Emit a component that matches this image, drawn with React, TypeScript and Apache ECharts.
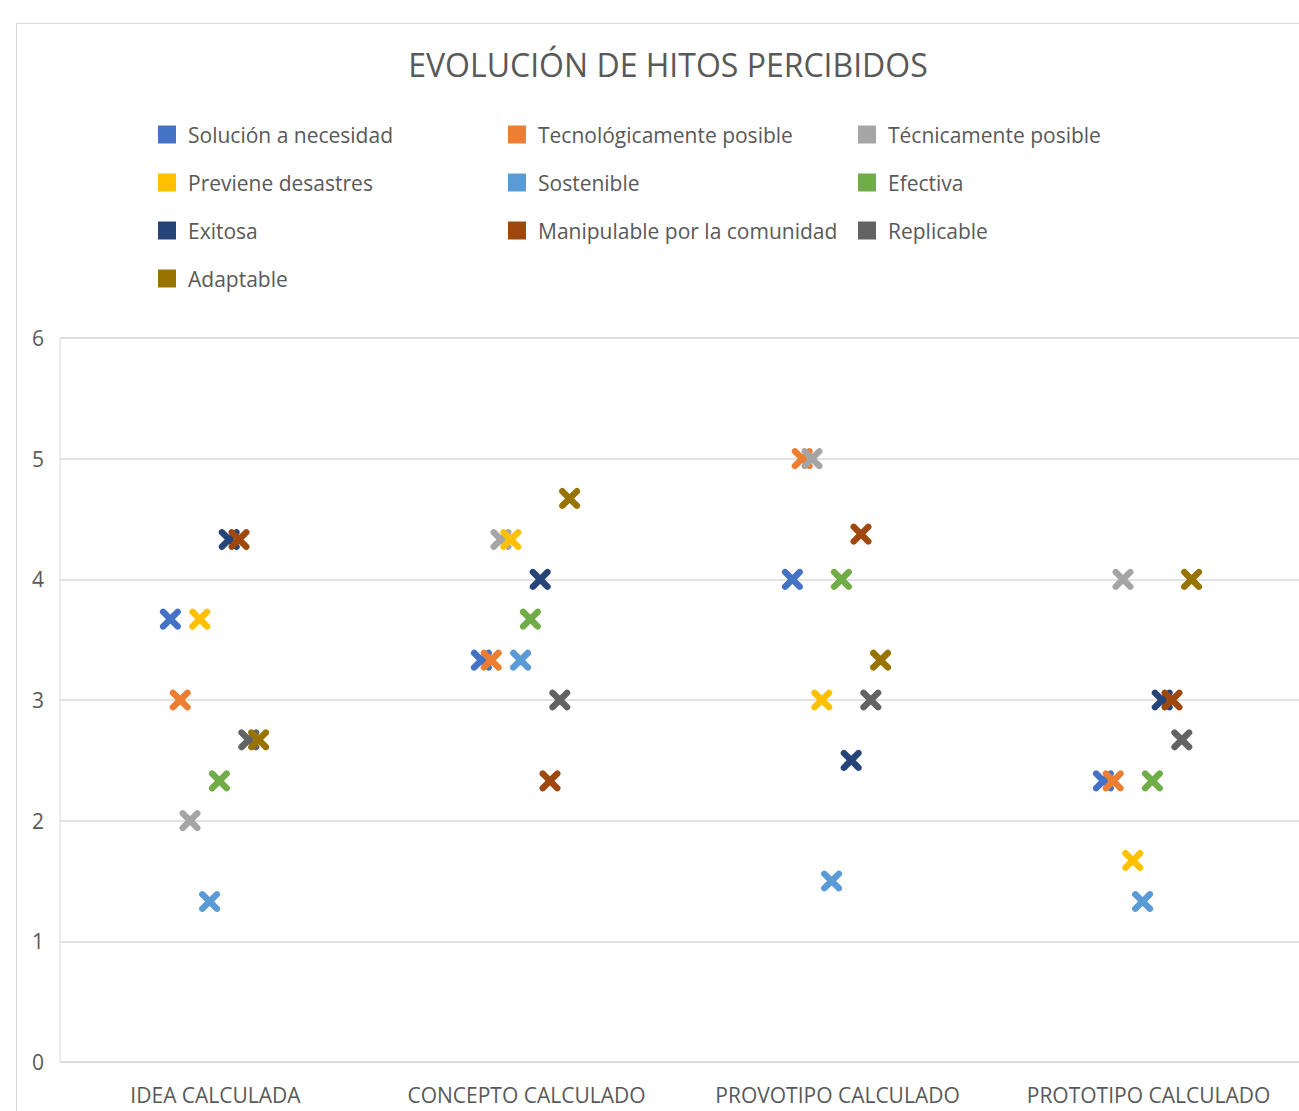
import React, { useEffect, useRef } from "react";
import * as echarts from "echarts";

const categories = ["IDEA CALCULADA", "CONCEPTO CALCULADO", "PROVOTIPO CALCULADO", "PROTOTIPO CALCULADO"];

const seriesNames = [
  "Solución a necesidad",
  "Tecnológicamente posible",
  "Técnicamente posible",
  "Previene desastres",
  "Sostenible",
  "Efectiva",
  "Exitosa",
  "Manipulable por la comunidad",
  "Replicable",
  "Adaptable",
];

const solucion = [3.67, 3.33, 4.0, 2.33];
const tecnologicamente = [3.0, 3.33, 5.0, 2.33];
const tecnicamente = [2.0, 4.33, 5.0, 4.0];
const previene = [3.67, 4.33, 3.0, 1.67];
const sostenible = [1.33, 3.33, 1.5, 1.33];
const efectiva = [2.33, 3.67, 4.0, 2.33];
const exitosa = [4.33, 4.0, 2.5, 3.0];
const manipulable = [4.33, 2.33, 4.375, 3.0];
const replicable = [2.67, 3.0, 3.0, 2.67];
const adaptable = [2.67, 4.67, 3.33, 4.0];

const seriesValues = [
  solucion,
  tecnologicamente,
  tecnicamente,
  previene,
  sostenible,
  efectiva,
  exitosa,
  manipulable,
  replicable,
  adaptable,
];

const yTicks = [0, 1, 2, 3, 4, 5, 6];

const colors = [
  "#4472C4",
  "#ED7D31",
  "#A5A5A5",
  "#FFC000",
  "#5B9BD5",
  "#70AD47",
  "#264478",
  "#9E480E",
  "#636363",
  "#997300",
];

const X_PATH =
  "path://M5.1,0.9 L19.1,14.9 A3,3 0 0 1 14.9,19.1 L0.9,5.1 A3,3 0 0 1 5.1,0.9 Z M19.1,5.1 L5.1,19.1 A3,3 0 0 1 0.9,14.9 L14.9,0.9 A3,3 0 0 1 19.1,5.1 Z";

const FONT = "'Open Sans', 'Noto Sans', sans-serif";
const TEXT = "#595959";

export default function App() {
  const ref = useRef<HTMLDivElement>(null);

  useEffect(() => {
    if (!ref.current) return;
    const chart = echarts.init(ref.current, undefined, { renderer: "svg" });

    const legendCols = [
      { left: 158, names: [seriesNames[0], seriesNames[3], seriesNames[6], seriesNames[9]] },
      { left: 508, names: [seriesNames[1], seriesNames[4], seriesNames[7]] },
      { left: 858, names: [seriesNames[2], seriesNames[5], seriesNames[8]] },
    ];

    chart.setOption({
      animation: false,
      backgroundColor: "#ffffff",
      color: colors,
      textStyle: { fontFamily: FONT, color: TEXT },
      title: {
        text: "EVOLUCIÓN DE HITOS PERCIBIDOS",
        left: "center",
        top: 48,
        padding: 0,
        textStyle: { fontFamily: FONT, fontSize: 32, fontWeight: "normal", color: TEXT },
      },
      graphic: [
        {
          type: "rect",
          shape: { x: 16.5, y: 23.5, width: 1500, height: 1300 },
          style: { fill: "none", stroke: "#d9d9d9", lineWidth: 1 },
          silent: true,
          z: -10,
        },
      ],
      legend: legendCols.map((c) => ({
        orient: "vertical",
        left: c.left,
        top: 124,
        padding: 0,
        itemGap: 27,
        itemWidth: 18,
        itemHeight: 18,
        icon: "rect",
        data: c.names,
        selectedMode: false,
        textStyle: {
          fontFamily: FONT,
          fontSize: 21,
          lineHeight: 21,
          color: TEXT,
          padding: [0, 0, 0, 7],
        },
      })),
      grid: {
        left: 60,
        right: 32,
        top: 338,
        bottom: 78,
        show: true,
        borderColor: "#d9d9d9",
        borderWidth: 1,
        containLabel: false,
      },
      xAxis: {
        type: "category",
        data: categories,
        axisTick: { show: false },
        axisLine: { show: true, lineStyle: { color: "#d9d9d9" } },
        axisLabel: { fontFamily: FONT, fontSize: 21, color: TEXT, margin: 22, interval: 0, hideOverlap: false },
      },
      yAxis: {
        type: "value",
        min: yTicks[0],
        max: yTicks[yTicks.length - 1],
        interval: 1,
        axisLine: { show: false },
        axisTick: { show: false },
        splitLine: { lineStyle: { color: "#d9d9d9", width: 1.5 } },
        axisLabel: { fontFamily: FONT, fontSize: 21, color: TEXT, margin: 16 },
      },
      series: seriesNames.map((name, i) => ({
        name,
        type: "scatter",
        data: seriesValues[i],
        symbol: X_PATH,
        symbolSize: 21,
        symbolOffset: [(i - 4.5) * 9.8 - 1, 0],
        itemStyle: { color: colors[i], opacity: 1 },
        emphasis: { disabled: true },
      })),
    });

    return () => chart.dispose();
  }, []);

  return (
    <div style={{ position: "fixed", left: 0, top: 0, width: 1299, height: 1111, overflow: "hidden", background: "#fff" }}>
      <div ref={ref} style={{ position: "absolute", left: 0, top: 0, width: 1336, height: 1140 }} />
    </div>
  );
}
